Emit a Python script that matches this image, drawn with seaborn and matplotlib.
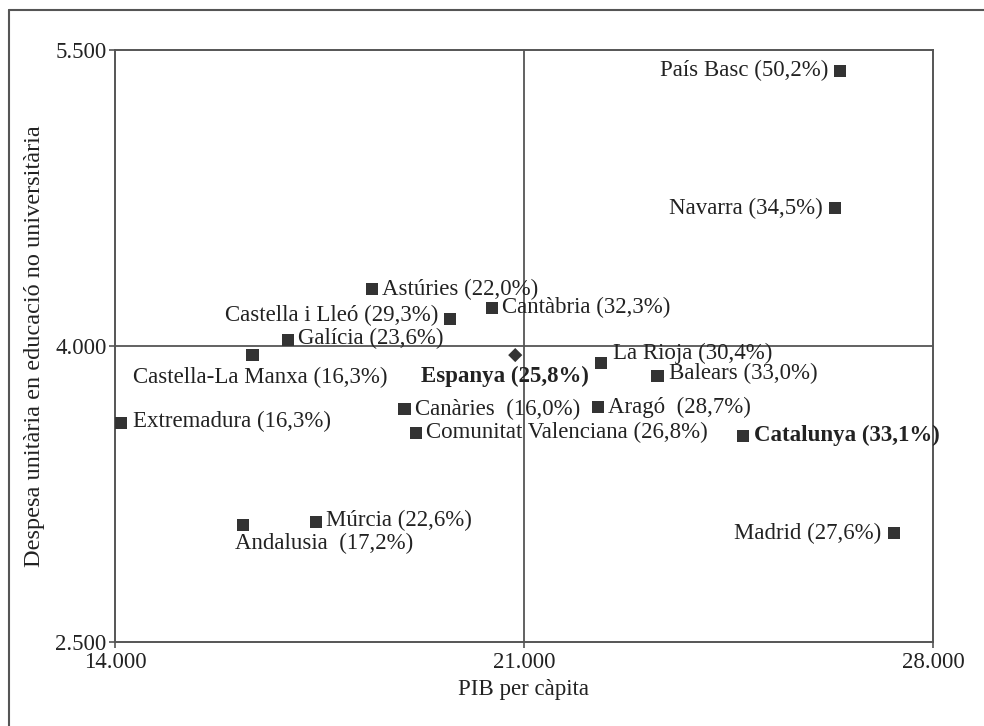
import matplotlib
matplotlib.use("Agg")
import matplotlib.pyplot as plt
import pandas as pd
import seaborn as sns
from matplotlib.lines import Line2D

# Data
regions = ["País Basc", "Navarra", "Astúries", "Castella i Lleó", "Cantàbria", "Galícia",
           "Castella-La Manxa", "La Rioja", "Balears", "Extremadura", "Canàries", "Aragó",
           "Comunitat Valenciana", "Catalunya", "Múrcia", "Andalusia", "Madrid"]
shares = ["50,2%", "34,5%", "22,0%", "29,3%", "32,3%", "23,6%",
          "16,3%", "30,4%", "33,0%", "16,3%", "16,0%", "28,7%",
          "26,8%", "33,1%", "22,6%", "17,2%", "27,6%"]
pib = [26410, 26320, 18400, 19730, 20450, 16960,
       16350, 22320, 23280, 14100, 18950, 22270,
       19150, 24750, 17440, 16190, 27330]
despesa = [5394, 4699, 4289, 4137, 4192, 4030,
           3954, 3914, 3848, 3610, 3680, 3690,
           3559, 3544, 3108, 3093, 3052]

spain_label = "Espanya (25,8%)"
spain_pib = 20850
spain_despesa = 3954

x_ticks = [14000, 21000, 28000]
y_ticks = [2500, 4000, 5500]

# label placement (pixels offset from marker, alignment, gap before the share)
label_layout = {
    "País Basc": (-12, 0, "right", " "),
    "Navarra": (-12, 0, "right", " "),
    "Astúries": (10, 0, "left", " "),
    "Castella i Lleó": (-11, 4, "right", " "),
    "Cantàbria": (10, 1, "left", " "),
    "Galícia": (10, 2, "left", " "),
    "Castella-La Manxa": (8, -22, "center", " "),
    "La Rioja": (12, 10, "left", " "),
    "Balears": (12, 3, "left", " "),
    "Extremadura": (12, 2, "left", " "),
    "Canàries": (11, 0, "left", "  "),
    "Aragó": (10, 0, "left", "  "),
    "Comunitat Valenciana": (10, 1, "left", " "),
    "Catalunya": (11, 1, "left", " "),
    "Múrcia": (10, 2, "left", " "),
    "Andalusia": (-8, -18, "left", "  "),
    "Madrid": (-13, 0, "right", " "),
}
bold_regions = {"Catalunya"}

df = pd.DataFrame({"region": regions, "pib": pib, "despesa": despesa, "share": shares})

sns.set_style("white")
plt.rcParams["font.family"] = ["Liberation Serif", "DejaVu Serif"]

fig = plt.figure(figsize=(9.84, 7.26), dpi=100)
ax = fig.add_axes([115 / 984, 1 - 642 / 726, 818 / 984, 592 / 726])

line_col = "#555555"
text_col = "#222222"
ax.axvline(21000, color=line_col, lw=1.3, zorder=1)
ax.axhline(4000, color=line_col, lw=1.3, zorder=1)

sns.scatterplot(data=df, x="pib", y="despesa", marker="s", s=82, color="#333333",
                edgecolor="none", ax=ax, zorder=3)
ax.scatter([spain_pib], [spain_despesa], marker="D", s=52, color="#333333",
           edgecolor="none", zorder=3)

px = 0.72  # points per pixel at 100 dpi
for _, row in df.iterrows():
    dx, dy, ha, gap = label_layout[row["region"]]
    ax.annotate(f"{row['region']}{gap}({row['share']})", (row["pib"], row["despesa"]),
                xytext=(dx * px, dy * px), textcoords="offset points",
                ha=ha, va="center", fontsize=16.5, color=text_col,
                fontweight="bold" if row["region"] in bold_regions else "normal")
ax.annotate(spain_label, (spain_pib, spain_despesa), xytext=(-10 * px, -21 * px),
            textcoords="offset points", ha="center", va="center", fontsize=16.5,
            color=text_col, fontweight="bold")

ax.set_xlim(14000, 28000)
ax.set_ylim(2500, 5500)
ax.set_xticks(x_ticks)
ax.set_yticks(y_ticks)
ax.set_xticklabels([f"{v:,}".replace(",", ".") for v in x_ticks])
ax.set_yticklabels([f"{v:,}".replace(",", ".") for v in y_ticks])
ax.tick_params(axis="both", direction="out", length=4, width=1.2, color=line_col,
               labelsize=16.5, labelcolor=text_col, left=True, bottom=True)
ax.tick_params(axis="x", pad=3)
ax.tick_params(axis="y", pad=2)

for sp in ax.spines.values():
    sp.set_color(line_col)
    sp.set_linewidth(1.4)

ax.set_xlabel("PIB per càpita", fontsize=16.5, color=text_col)
ax.set_ylabel("Despesa unitària en educació no universitària", fontsize=17.5, color=text_col)
ax.xaxis.set_label_coords(0.5, -0.063)
ax.yaxis.set_label_coords(-0.086, 0.5)

# outer frame (open at right and bottom, as in the source crop)
fig.add_artist(Line2D([9 / 984, 1.0], [1 - 10 / 726, 1 - 10 / 726],
                      transform=fig.transFigure, color=line_col, lw=1.5))
fig.add_artist(Line2D([9 / 984, 9 / 984], [0.0, 1 - 10 / 726],
                      transform=fig.transFigure, color=line_col, lw=1.5))

fig.savefig("out.png", dpi=100)
